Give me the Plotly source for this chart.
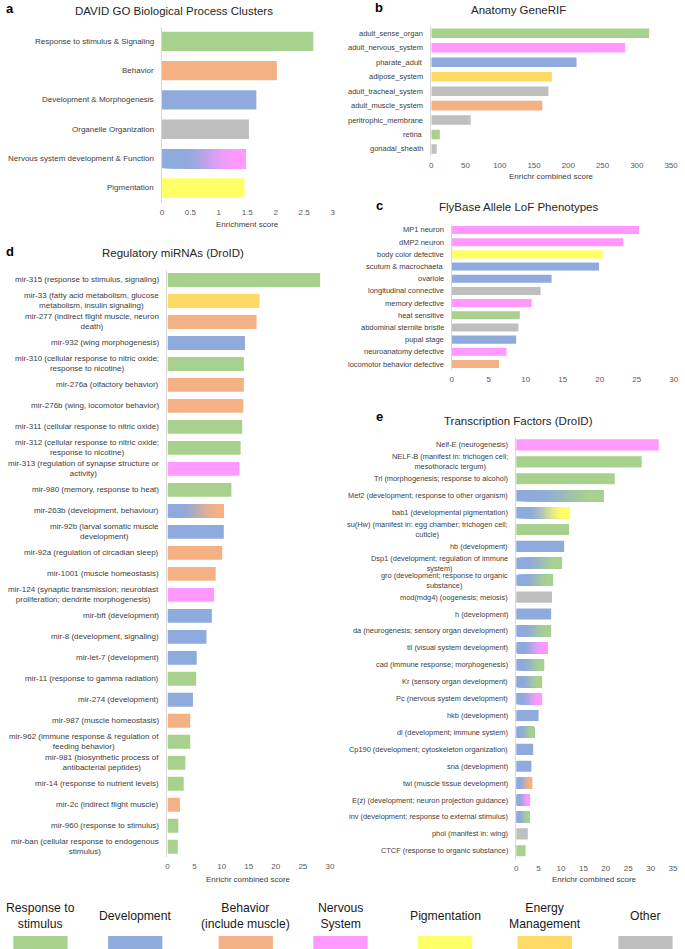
import plotly.graph_objects as go

W, H = 685, 949

COLORS = {
    "stim": "#A9D18E", "dev": "#8FAADC", "beh": "#F4B183", "nerv": "#FF99FF",
    "pig": "#FFFF66", "energy": "#FFD966", "other": "#BFBFBF",
}

# ---------------- data ----------------
a_labels = ["Response to stimulus & Signaling", "Behavior", "Development & Morphogenesis",
            "Organelle Organization", "Nervous system development & Function", "Pigmentation"]
a_values = [2.66, 2.02, 1.66, 1.53, 1.47, 1.45]
a_groups = ["stim", "beh", "dev", "other", "dev>nerv", "pig"]

b_labels = ["adult_sense_organ", "adult_nervous_system", "pharate_adult", "adipose_system",
            "adult_tracheal_system", "adult_muscle_system", "peritrophic_membrane", "retina",
            "gonadal_sheath"]
b_values = [318, 283, 212, 176, 171, 162, 57.5, 12.5, 8]
b_groups = ["stim", "nerv", "dev", "energy", "other", "beh", "other", "stim", "other"]

c_labels = ["MP1 neuron", "dMP2 neuron", "body color defective", "scutum & macrochaeta",
            "ovariole", "longitudinal connective", "memory defective", "heat sensitive",
            "abdominal sternite bristle", "pupal stage", "neuroanatomy defective",
            "locomotor behavior defective"]
c_values = [25.3, 23.2, 20.4, 19.9, 13.5, 12.0, 10.8, 9.2, 9.0, 8.7, 7.4, 6.4]
c_groups = ["nerv", "nerv", "pig", "dev", "dev", "other", "nerv", "stim", "other", "dev",
            "nerv", "beh"]

d_labels = [
    "mir-315 (response to stimulus, signaling)",
    "mir-33 (fatty acid metabolism, glucose<br>metabolism, insulin signaling)",
    "mir-277 (indirect flight muscle, neuron<br>death)",
    "mir-932 (wing morphogenesis)",
    "mir-310 (cellular response to nitric oxide;<br>response to nicotine)",
    "mir-276a (olfactory behavior)",
    "mir-276b (wing, locomotor behavior)",
    "mir-311 (cellular response to nitric oxide)",
    "mir-312 (cellular response to nitric oxide;<br>response to nicotine)",
    "mir-313 (regulation of synapse structure or<br>activity)",
    "mir-980 (memory, response to heat)",
    "mir-263b (development, behaviour)",
    "mir-92b (larval somatic muscle<br>development)",
    "mir-92a (regulation of circadian sleep)",
    "mir-1001 (muscle homeostasis)",
    "mir-124 (synaptic transmission; neuroblast<br>proliferation; dendrite morphogenesis)",
    "mir-bft (development)",
    "mir-8 (development, signaling)",
    "mir-let-7 (development)",
    "mir-11 (response to gamma radiation)",
    "mir-274 (development)",
    "mir-987 (muscle homeostasis)",
    "mir-962 (immune response & regulation of<br>feeding behavior)",
    "mir-981 (biosynthetic process of<br>antibacterial peptides)",
    "mir-14 (response to nutrient levels)",
    "mir-2c (indirect flight muscle)",
    "mir-960 (response to stimulus)",
    "mir-ban (cellular response to endogenous<br>stimulus)",
]
d_values = [28.2, 17.0, 16.45, 14.3, 14.1, 14.1, 14.0, 13.8, 13.5, 13.3, 11.8, 10.4, 10.4,
            10.1, 8.9, 8.6, 8.2, 7.2, 5.4, 5.3, 4.7, 4.2, 4.2, 3.3, 3.0, 2.3, 2.0, 1.9]
d_groups = ["stim", "energy", "beh", "dev", "stim", "beh", "beh", "stim", "stim", "nerv",
            "stim", "dev>beh", "dev", "beh", "beh", "nerv", "dev", "dev", "dev", "stim",
            "dev", "beh", "stim", "stim", "stim", "beh", "stim", "stim"]

e_labels = [
    "Nelf-E (neurogenesis)",
    "NELF-B (manifest in: trichogen cell;<br>mesothoracic tergum)",
    "Trl (morphogenesis; response to alcohol)",
    "Mef2 (development; response to other organism)",
    "bab1 (developmental pigmentation)",
    "su(Hw) (manifest in: egg chamber; trichogen cell;<br>cuticle)",
    "hb (development)",
    "Dsp1 (development; regulation of immune<br>system)",
    "gro (development; response to organic<br>substance)",
    "mod(mdg4) (oogenesis; meiosis)",
    "h (development)",
    "da (neurogenesis; sensory organ development)",
    "tll (visual system development)",
    "cad (immune response; morphogenesis)",
    "Kr (sensory organ development)",
    "Pc (nervous system development)",
    "hkb (development)",
    "dl (development; immune system)",
    "Cp190 (development; cytoskeleton organization)",
    "sna (development)",
    "twi (muscle tissue development)",
    "E(z) (development; neuron projection guidance)",
    "inv (development; response to external stimulus)",
    "phol (manifest in: wing)",
    "CTCF (response to organic substance)",
]
e_values = [31.8, 28.0, 22.0, 19.5, 12.0, 11.8, 10.7, 10.1, 8.1, 8.0, 7.8, 7.6, 7.0, 6.2,
            5.6, 5.6, 5.0, 4.0, 3.8, 3.4, 3.4, 2.9, 2.9, 2.6, 2.1]
e_groups = ["nerv", "stim", "stim", "dev>stim", "dev>pig", "stim", "dev", "dev>stim",
            "dev>stim", "other", "dev", "dev>stim", "dev>nerv", "dev>stim", "dev>stim",
            "dev>nerv", "dev", "dev>stim", "dev", "dev", "dev>beh", "dev>nerv", "dev>stim",
            "other", "stim"]

legend_keys = ["stim", "dev", "beh", "nerv", "pig", "energy", "other"]
legend_texts = ["Response to<br>stimulus", "Development", "Behavior<br>(include muscle)",
                "Nervous<br>System", "Pigmentation", "Energy<br>Management", "Other"]

# ---------------- helpers ----------------
FONT = "Liberation Sans, Arial, sans-serif"


def px_x(p):
    return p / W


def px_y(p):
    return 1 - p / H


def hex2rgb(h):
    h = h.lstrip("#")
    return [int(h[i:i + 2], 16) for i in (0, 2, 4)]


def mix(c1, c2, f):
    a, b = hex2rgb(c1), hex2rgb(c2)
    return "rgb(%d,%d,%d)" % tuple(round(a[i] + (b[i] - a[i]) * f) for i in range(3))


def ramp(t, t0=0.22, t1=0.9):
    f = min(max((t - t0) / (t1 - t0), 0.0), 1.0)
    return f * f * (3 - 2 * f)


fig = go.Figure()
annotations = []
BAR_W = 0.66
SEG = 40


def add_panel(n, labels, values, groups, xmax, dtick, xpx, ypx, letter, title,
              title_xy, letter_xy, label_size, xtitle=None, xtitle_y=None):
    xa = "x" if n == 1 else f"x{n}"
    ya = "y" if n == 1 else f"y{n}"
    idx = list(range(len(labels)))
    solid_i = [i for i in idx if ">" not in groups[i]]
    grad_i = [i for i in idx if ">" in groups[i]]
    fig.add_trace(go.Bar(
        orientation="h", y=solid_i, x=[values[i] for i in solid_i],
        marker=dict(color=[COLORS[groups[i]] for i in solid_i], line=dict(width=0)),
        width=BAR_W, xaxis=xa, yaxis=ya, showlegend=False, hoverinfo="skip"))
    if grad_i:
        for k in range(SEG):
            t = (k + 0.5) / SEG
            cols = []
            for i in grad_i:
                g1, g2 = groups[i].split(">")
                cols.append(mix(COLORS[g1], COLORS[g2], ramp(t)))
            fig.add_trace(go.Bar(
                orientation="h", y=grad_i,
                base=[values[i] * k / SEG for i in grad_i],
                x=[values[i] * (1 - k / SEG) for i in grad_i],
                marker=dict(color=cols, line=dict(width=0)),
                width=BAR_W, xaxis=xa, yaxis=ya, showlegend=False, hoverinfo="skip"))
    xkey = "xaxis" if n == 1 else f"xaxis{n}"
    ykey = "yaxis" if n == 1 else f"yaxis{n}"
    fig.update_layout(**{
        xkey: dict(domain=[px_x(xpx[0]), px_x(xpx[1])], range=[0, xmax], dtick=dtick,
                   tick0=0, anchor=ya, showgrid=False, zeroline=False, showline=False,
                   ticks="", tickfont=dict(size=8, color="#595959", family=FONT),
                   ticklabelstandoff=3, ticklabeloverflow="allow", fixedrange=True),
        ykey: dict(domain=[px_y(ypx[1]), px_y(ypx[0])], range=[len(labels) - 0.5, -0.5],
                   anchor=xa, showgrid=False, zeroline=False, showline=True,
                   linecolor="#D9D9D9", linewidth=1, showticklabels=False, ticks="",
                   fixedrange=True),
    })
    for i in idx:
        annotations.append(dict(
            xref=f"{xa} domain", yref=ya, x=0, y=i, xanchor="right", yanchor="middle",
            xshift=-6, text=labels[i], showarrow=False, align="center",
            font=dict(size=label_size, color="#404040", family=FONT)))
    annotations.append(dict(
        xref="paper", yref="paper", x=px_x(title_xy[0]), y=px_y(title_xy[1]),
        xanchor="center", yanchor="middle", text=title, showarrow=False,
        font=dict(size=11.5, color="#262626", family=FONT)))
    annotations.append(dict(
        xref="paper", yref="paper", x=px_x(letter_xy[0]), y=px_y(letter_xy[1]),
        xanchor="center", yanchor="middle", text=f"<b>{letter}</b>", showarrow=False,
        font=dict(size=13, color="#000000", family=FONT)))
    if xtitle:
        annotations.append(dict(
            xref="paper", yref="paper", x=px_x((xpx[0] + xpx[1]) / 2), y=px_y(xtitle_y),
            xanchor="center", yanchor="middle", text=xtitle, showarrow=False,
            font=dict(size=8, color="#404040", family=FONT)))


add_panel(1, a_labels, a_values, a_groups, 3, 0.5, (162, 335), (26.7, 202.5), "a",
          "DAVID GO Biological Process Clusters", (174, 11), (8, 8), 8,
          "Enrichment score", 224)
add_panel(2, b_labels, b_values, b_groups, 350, 50, (435, 678), (26.1, 156.2), "b",
          "Anatomy GeneRIF", (523, 10), (382, 7), 7.5, "Enrichr combined score", 176.5)
add_panel(3, c_labels, c_values, c_groups, 30, 5, (455.7, 680.7), (223.9, 370.1), "c",
          "FlyBase Allele LoF Phenotypes", (523, 207), (383, 205), 7.5)
add_panel(4, d_labels, d_values, d_groups, 30, 5, (167.7, 332.3), (269.5, 857.2), "d",
          "Regulatory miRNAs (DroID)", (173, 253), (8, 252), 8,
          "Enrichr combined score", 879)
add_panel(5, e_labels, e_values, e_groups, 35, 5, (521, 680), (436.5, 859.2), "e",
          "Transcription Factors (DroID)", (523, 421), (383, 417), 7.4,
          "Enrichr combined score", 879)

# legend
legend_cx = [39, 135, 247, 343, 449, 550, 652]
shapes = []
for cx, key, txt in zip(legend_cx, legend_keys, legend_texts):
    shapes.append(dict(type="rect", xref="paper", yref="paper",
                       x0=px_x(cx - 27.5), x1=px_x(cx + 27.5), y0=px_y(952), y1=px_y(936),
                       fillcolor=COLORS[key], line=dict(width=0), layer="above"))
    annotations.append(dict(xref="paper", yref="paper", x=px_x(cx), y=px_y(916),
                            xanchor="center", yanchor="middle", text=txt, showarrow=False,
                            align="center",
                            font=dict(size=12.2, color="#1a1a1a", family=FONT)))

fig.update_layout(
    width=W, height=H, margin=dict(l=0, r=0, t=0, b=0),
    paper_bgcolor="white", plot_bgcolor="white", barmode="overlay",
    annotations=annotations, shapes=shapes, showlegend=False,
    font=dict(family=FONT),
)

fig.write_html("out.html", config={"displayModeBar": False},
               post_script="document.body.style.margin='0';document.body.style.overflow='hidden';")
